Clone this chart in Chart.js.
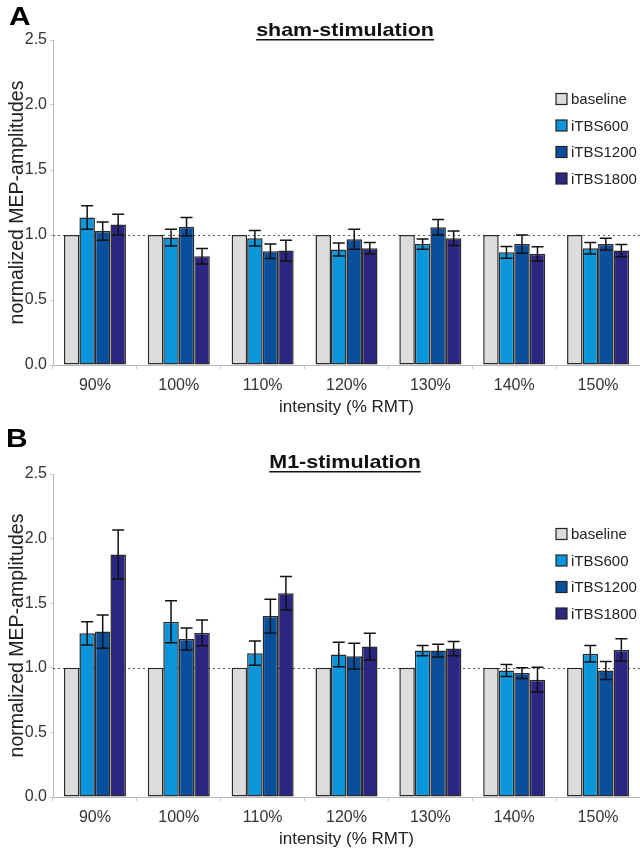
<!DOCTYPE html>
<html>
<head>
<meta charset="utf-8">
<script src="https://cdn.jsdelivr.net/npm/chart.js@4.4.1/dist/chart.umd.min.js"></script>
<style>
  html, body { margin: 0; padding: 0; background: #fff; }
  body { width: 640px; height: 852px; position: relative; overflow: hidden; }
  .panel { position: absolute; left: 0; width: 640px; }
  #wrapA { top: 0; height: 420px; }
  #wrapB { top: 422px; height: 430px; }
</style>
</head>
<body>
<div class="panel" id="wrapA"><canvas id="chartA"></canvas></div>
<div class="panel" id="wrapB"><canvas id="chartB"></canvas></div>
<script>
const categories = ['90%', '100%', '110%', '120%', '130%', '140%', '150%'];
const seriesLabels = ['baseline', 'iTBS600', 'iTBS1200', 'iTBS1800'];
const yTicks = [0, 0.5, 1.0, 1.5, 2.0, 2.5];

// Panel A: sham-stimulation
const shamBaseline = [1, 1, 1, 1, 1, 1, 1];
const sham600  = [1.135, 0.98, 0.975, 0.888, 0.93, 0.867, 0.898];
const sham1200 = [1.03, 1.064, 0.875, 0.967, 1.06, 0.93, 0.93];
const sham1800 = [1.08, 0.837, 0.88, 0.898, 0.975, 0.855, 0.88];
const sham600Err  = [0.09, 0.065, 0.06, 0.05, 0.04, 0.045, 0.045];
const sham1200Err = [0.07, 0.07, 0.055, 0.077, 0.06, 0.07, 0.045];
const sham1800Err = [0.08, 0.06, 0.08, 0.045, 0.055, 0.055, 0.047];

// Panel B: M1-stimulation
const m1Baseline = [1, 1, 1, 1, 1, 1, 1];
const m1600  = [1.267, 1.356, 1.113, 1.103, 1.133, 0.979, 1.108];
const m11200 = [1.28, 1.223, 1.4, 1.09, 1.133, 0.959, 0.979];
const m11800 = [1.877, 1.27, 1.577, 1.164, 1.149, 0.908, 1.138];
const m1600Err  = [0.09, 0.163, 0.094, 0.094, 0.04, 0.047, 0.064];
const m11200Err = [0.128, 0.085, 0.13, 0.1, 0.05, 0.041, 0.07];
const m11800Err = [0.19, 0.1, 0.13, 0.103, 0.055, 0.096, 0.086];

const colors = ['#dcdcdc', '#0b96dc', '#0a4f9c', '#2b2682'];
const FONT = '"Liberation Sans", Arial, Helvetica, sans-serif';

const errorBarPlugin = {
  id: 'errorBars',
  afterDatasetsDraw(chart) {
    const ctx = chart.ctx;
    const y = chart.scales.y;
    ctx.save();
    ctx.strokeStyle = '#111';
    ctx.lineWidth = 1.5;
    chart.data.datasets.forEach((ds, di) => {
      if (!ds.errors) return;
      const meta = chart.getDatasetMeta(di);
      meta.data.forEach((bar, i) => {
        const v = ds.data[i], e = ds.errors[i];
        const yt = y.getPixelForValue(v + e);
        const yb = y.getPixelForValue(v - e);
        const x = bar.x;
        ctx.beginPath();
        ctx.moveTo(x, yt); ctx.lineTo(x, yb);
        ctx.moveTo(x - 6, yt); ctx.lineTo(x + 6, yt);
        ctx.moveTo(x - 6, yb); ctx.lineTo(x + 6, yb);
        ctx.stroke();
      });
    });
    ctx.restore();
  }
};

const refLinePlugin = {
  id: 'refLine',
  beforeDatasetsDraw(chart) {
    const ctx = chart.ctx;
    const y = chart.scales.y.getPixelForValue(1.0);
    const a = chart.chartArea;
    ctx.save();
    ctx.strokeStyle = '#555';
    ctx.lineWidth = 1;
    ctx.setLineDash([2, 3]);
    ctx.beginPath();
    ctx.moveTo(a.left, Math.round(y) + 0.5);
    ctx.lineTo(a.right, Math.round(y) + 0.5);
    ctx.stroke();
    ctx.restore();
  }
};

const decorPlugin = {
  id: 'decor',
  afterDraw(chart) {
    const o = chart.options.plugins.decor;
    const ctx = chart.ctx;
    const a = chart.chartArea;
    ctx.save();
    // panel letter
    ctx.fillStyle = '#000';
    ctx.textBaseline = 'alphabetic';
    ctx.textAlign = 'left';
    ctx.font = 'bold 26px ' + FONT;
    ctx.save();
    ctx.translate(o.letterX, 25);
    ctx.scale(1.15, 1);
    ctx.fillText(o.letter, 0, 0);
    ctx.restore();
    // title
    ctx.font = 'bold 19px ' + FONT;
    ctx.fillStyle = '#111';
    ctx.save();
    ctx.translate(345, o.titleY);
    ctx.scale(1.13, 1);
    ctx.textAlign = 'center';
    ctx.textBaseline = 'middle';
    ctx.fillText(o.title, 0, 0);
    const w = ctx.measureText(o.title).width;
    ctx.fillRect(-w / 2, 8, w, 1.5);
    ctx.restore();
    // legend
    ctx.font = '15px ' + FONT;
    ctx.textAlign = 'left';
    ctx.textBaseline = 'middle';
    chart.data.datasets.forEach((ds, i) => {
      const cy = a.top + o.legendTop + i * 26.5;
      ctx.fillStyle = ds.backgroundColor;
      ctx.fillRect(556, cy - 5.5, 11, 11);
      ctx.strokeStyle = '#222';
      ctx.lineWidth = 1.2;
      ctx.strokeRect(556, cy - 5.5, 11, 11);
      ctx.fillStyle = '#222';
      ctx.fillText(ds.label, 571, cy + 1);
    });
    ctx.restore();
  }
};

function makeChart(id, letter, title, series, errors, padTop, titleY, legendTop, letterX) {
  const datasets = series.map((d, i) => ({
    label: seriesLabels[i],
    data: d,
    errors: errors[i],
    backgroundColor: colors[i],
    borderColor: '#2a2a2a',
    borderWidth: 1.5,
    borderSkipped: false,
    categoryPercentage: 0.74,
    barPercentage: 1.0
  }));
  return new Chart(document.getElementById(id), {
    type: 'bar',
    data: { labels: categories, datasets },
    plugins: [refLinePlugin, errorBarPlugin, decorPlugin],
    options: {
      responsive: true,
      maintainAspectRatio: false,
      animation: false,
      layout: { padding: { top: padTop, left: 0, right: 0, bottom: 0 } },
      plugins: {
        legend: { display: false },
        tooltip: { enabled: false },
        decor: { letter, title, titleY, legendTop, letterX }
      },
      scales: {
        x: {
          grid: { drawOnChartArea: false, drawTicks: true, tickLength: 4, color: '#c8c8c8', offset: true },
          border: { display: true, color: '#b8b8b8', width: 1 },
          ticks: { color: '#333', font: { family: FONT, size: 16 }, padding: 7 },
          title: { display: true, text: 'intensity (% RMT)', color: '#222', font: { family: FONT, size: 17 }, padding: { top: 0, bottom: 2 } },
          afterFit(s) { s.height = 55; }
        },
        y: {
          min: 0, max: 2.5,
          afterBuildTicks(s) { s.ticks = yTicks.map(v => ({ value: v })); },
          grid: { drawOnChartArea: false, drawTicks: true, tickLength: 3, color: '#c8c8c8' },
          border: { display: true, color: '#b8b8b8', width: 1 },
          ticks: { color: '#333', font: { family: FONT, size: 16 }, padding: 3, callback: v => Number(v).toFixed(1) },
          title: { display: true, text: 'normalized MEP-amplitudes', color: '#222', font: { family: FONT, size: 19.5 }, padding: { top: 6, bottom: 0 } },
          afterFit(s) { s.width = 53; }
        }
      }
    }
  });
}

makeChart('chartA', 'A', 'sham-stimulation',
  [shamBaseline, sham600, sham1200, sham1800],
  [null, sham600Err, sham1200Err, sham1800Err], 40, 31, 59, 9);
makeChart('chartB', 'B', 'M1-stimulation',
  [m1Baseline, m1600, m11200, m11800],
  [null, m1600Err, m11200Err, m11800Err], 52, 41, 60, 6);
</script>
</body>
</html>
